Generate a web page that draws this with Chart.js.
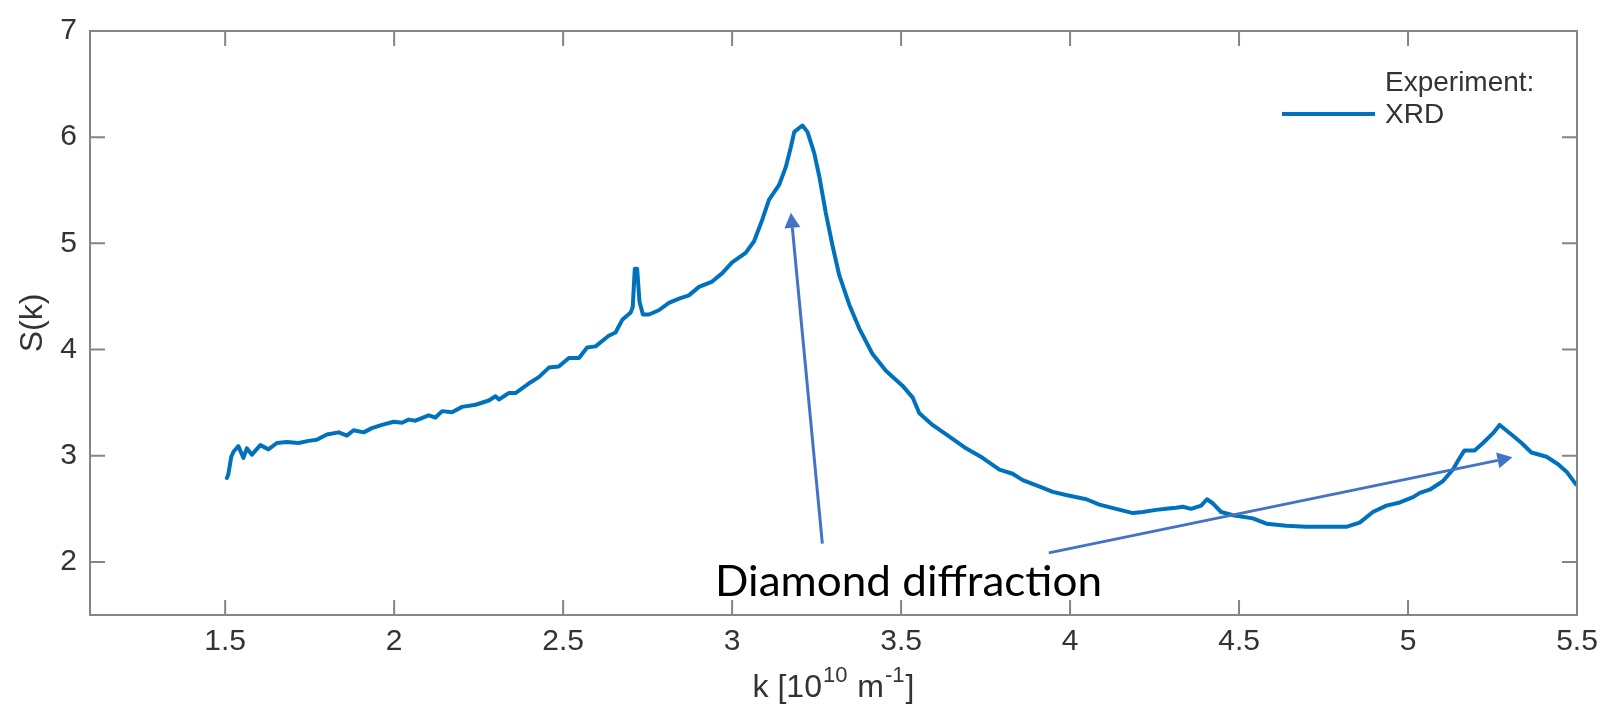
<!DOCTYPE html>
<html>
<head>
<meta charset="utf-8">
<script src="https://cdn.jsdelivr.net/npm/chart.js@4/dist/chart.umd.min.js"></script>
<style>
  html, body { margin: 0; padding: 0; background: #ffffff; }
  canvas { display: block; }
</style>
</head>
<body>
<canvas id="c" width="1614" height="707"></canvas>
<script>
// ---- data ----
const kValues = [
  1.505, 1.509, 1.518, 1.525, 1.539, 1.554, 1.564, 1.579, 1.604, 1.628, 1.653, 1.682, 1.717, 1.747, 1.771,
  1.801, 1.836, 1.860, 1.880, 1.910, 1.934, 1.964, 1.999, 2.023, 2.043, 2.063, 2.102, 2.122, 2.142, 2.171,
  2.201, 2.241, 2.280, 2.300, 2.310, 2.339, 2.359, 2.398, 2.428, 2.458, 2.487, 2.517, 2.547, 2.571, 2.596,
  2.635, 2.655, 2.675, 2.700, 2.706, 2.712, 2.719, 2.726, 2.736, 2.754, 2.783, 2.813, 2.843, 2.872, 2.902,
  2.941, 2.971, 3.000, 3.040, 3.065, 3.090, 3.109, 3.139, 3.159, 3.174, 3.184, 3.208, 3.223, 3.243, 3.258,
  3.277, 3.297, 3.317, 3.347, 3.376, 3.415, 3.455, 3.504, 3.534, 3.554, 3.593, 3.643, 3.692, 3.741, 3.791,
  3.830, 3.860, 3.910, 3.949, 3.988, 4.048, 4.087, 4.136, 4.186, 4.215, 4.255, 4.284, 4.314, 4.334, 4.358,
  4.388, 4.405, 4.423, 4.447, 4.482, 4.541, 4.581, 4.640, 4.699, 4.758, 4.817, 4.857, 4.896, 4.936, 4.976,
  5.015, 5.035, 5.064, 5.103, 5.133, 5.153, 5.167, 5.197, 5.222, 5.251, 5.271, 5.306, 5.336, 5.365, 5.410,
  5.444, 5.469, 5.497
];
const sValues = [
  2.79, 2.82, 2.99, 3.04, 3.09, 2.98, 3.07, 3.01, 3.10, 3.06, 3.12, 3.13, 3.12, 3.14, 3.15,
  3.20, 3.22, 3.19, 3.24, 3.22, 3.26, 3.29, 3.32, 3.31, 3.34, 3.33, 3.38, 3.36, 3.42, 3.41,
  3.46, 3.48, 3.52, 3.56, 3.53, 3.59, 3.59, 3.68, 3.74, 3.83, 3.84, 3.92, 3.92, 4.02, 4.03,
  4.13, 4.16, 4.28, 4.35, 4.40, 4.76, 4.76, 4.45, 4.33, 4.33, 4.37, 4.44, 4.48, 4.51, 4.59,
  4.64, 4.72, 4.82, 4.91, 5.02, 5.23, 5.41, 5.55, 5.72, 5.91, 6.05, 6.11, 6.05, 5.85, 5.63,
  5.29, 4.98, 4.70, 4.42, 4.20, 3.96, 3.80, 3.66, 3.55, 3.40, 3.29, 3.18, 3.07, 2.98, 2.87,
  2.83, 2.77, 2.71, 2.66, 2.63, 2.59, 2.54, 2.50, 2.46, 2.47, 2.49, 2.50, 2.51, 2.52, 2.50,
  2.53, 2.59, 2.55, 2.47, 2.44, 2.41, 2.36, 2.34, 2.33, 2.33, 2.33, 2.37, 2.47, 2.53, 2.56,
  2.61, 2.65, 2.68, 2.76, 2.87, 2.98, 3.05, 3.05, 3.12, 3.21, 3.29, 3.20, 3.12, 3.03, 2.99,
  2.92, 2.85, 2.73
];
const xTickValues = [1.5, 2, 2.5, 3, 3.5, 4, 4.5, 5, 5.5];
const yTickValues = [2, 3, 4, 5, 6, 7];
const seriesLabel = 'XRD';
const legendTitle = 'Experiment:';
// x-axis title pieces: [text, isSuperscript]
const xAxisTitleParts = [['k [10', false], ['10', true], [' m', false], ['-1', true], [']', false]];
const yAxisTitle = 'S(k)';
const annotationText = 'Diamond diffraction';
const annotationTextAnchor = [3.522, 1.676];          // centre x, baseline y (data units)
const arrowTails = [[3.267, 2.172], [3.937, 2.085]];  // data units
const arrowHeads = [[3.174, 5.288], [5.309, 2.985]];  // data units

// ---- styling ----
const LINE_COLOR = '#0072BD';
const AXIS_COLOR = '#858585';
const TEXT_COLOR = '#333333';
const ARROW_COLOR = '#4472C4';
const FONT = '"Liberation Sans", Arial, Helvetica, sans-serif';
const TICK_FONT = { family: FONT, size: 30 };

const points = kValues.map((k, i) => ({ x: k, y: sValues[i] }));

const boxPlugin = {
  id: 'matlabBox',
  afterDatasetsDraw(chart) {
    const ctx = chart.ctx;
    const a = chart.chartArea;
    const xs = chart.scales.x, ys = chart.scales.y;
    const TL = 15;
    ctx.save();
    ctx.strokeStyle = AXIS_COLOR;
    ctx.lineWidth = 2;
    ctx.beginPath();
    ctx.rect(a.left, a.top, a.right - a.left, a.bottom - a.top);
    ctx.stroke();
    ctx.beginPath();
    xTickValues.forEach(v => {
      const px = xs.getPixelForValue(v);
      ctx.moveTo(px, a.bottom); ctx.lineTo(px, a.bottom - TL);
      ctx.moveTo(px, a.top); ctx.lineTo(px, a.top + TL);
    });
    yTickValues.forEach(v => {
      const py = ys.getPixelForValue(v);
      ctx.moveTo(a.left, py); ctx.lineTo(a.left + TL, py);
      ctx.moveTo(a.right, py); ctx.lineTo(a.right - TL, py);
    });
    ctx.stroke();
    ctx.restore();
  },
  afterDraw(chart) {
    const ctx = chart.ctx;
    const a = chart.chartArea;
    const xs = chart.scales.x, ys = chart.scales.y;
    ctx.save();

    // x-axis title with superscripts
    const baseFont = '32px ' + FONT, supFont = '22px ' + FONT;
    ctx.fillStyle = TEXT_COLOR;
    ctx.textAlign = 'left';
    ctx.textBaseline = 'alphabetic';
    let total = 0;
    const widths = xAxisTitleParts.map(([t, sup]) => {
      ctx.font = sup ? supFont : baseFont;
      const w = ctx.measureText(t).width + (sup ? 2 : 0);
      total += w;
      return w;
    });
    let tx = (a.left + a.right) / 2 - total / 2;
    const tb = a.bottom + 82;
    xAxisTitleParts.forEach(([t, sup], i) => {
      ctx.font = sup ? supFont : baseFont;
      ctx.fillText(t, tx + (sup ? 1 : 0), sup ? tb - 15 : tb);
      tx += widths[i];
    });

    // legend
    const lx0 = a.right - 295, lx1 = a.right - 202, ly = a.top + 83;
    ctx.strokeStyle = LINE_COLOR;
    ctx.lineWidth = 4;
    ctx.lineCap = 'butt';
    ctx.beginPath(); ctx.moveTo(lx0, ly); ctx.lineTo(lx1, ly); ctx.stroke();
    ctx.fillStyle = TEXT_COLOR;
    ctx.font = '28px ' + FONT;
    ctx.fillText(legendTitle, lx1 + 10, ly - 22.7);
    ctx.fillText(seriesLabel, lx1 + 10, ly + 9);

    // arrows
    ctx.strokeStyle = ARROW_COLOR;
    ctx.fillStyle = ARROW_COLOR;
    ctx.lineWidth = 3;
    arrowTails.forEach((t, i) => {
      const h = arrowHeads[i];
      const x0 = xs.getPixelForValue(t[0]), y0 = ys.getPixelForValue(t[1]);
      const x1 = xs.getPixelForValue(h[0]), y1 = ys.getPixelForValue(h[1]);
      const ang = Math.atan2(y1 - y0, x1 - x0);
      const hl = 15, hw = 8;
      const bx = x1 - hl * Math.cos(ang), by = y1 - hl * Math.sin(ang);
      ctx.beginPath(); ctx.moveTo(x0, y0); ctx.lineTo(bx, by); ctx.stroke();
      ctx.beginPath();
      ctx.moveTo(x1, y1);
      ctx.lineTo(bx + hw * Math.sin(ang), by - hw * Math.cos(ang));
      ctx.lineTo(bx - hw * Math.sin(ang), by + hw * Math.cos(ang));
      ctx.closePath(); ctx.fill();
    });

    // annotation text
    ctx.fillStyle = '#000000';
    ctx.font = '42px Lato';
    const tw = ctx.measureText(annotationText).width;
    const sx = 387 / tw;
    const cx = xs.getPixelForValue(annotationTextAnchor[0]);
    const by = ys.getPixelForValue(annotationTextAnchor[1]);
    ctx.translate(cx, by);
    ctx.scale(sx, 1);
    ctx.textAlign = 'center';
    ctx.fillText(annotationText, 0, 0);
    ctx.restore();
  }
};

new Chart(document.getElementById('c'), {
  type: 'line',
  data: {
    datasets: [{
      label: seriesLabel,
      data: points,
      borderColor: LINE_COLOR,
      backgroundColor: LINE_COLOR,
      borderWidth: 4,
      pointRadius: 0,
      tension: 0,
      fill: false,
      borderJoinStyle: 'round',
      borderCapStyle: 'round'
    }]
  },
  options: {
    responsive: false,
    animation: false,
    devicePixelRatio: 1,
    layout: { padding: { top: 23, right: 37, left: 0, bottom: 0 } },
    plugins: { legend: { display: false }, tooltip: { enabled: false } },
    scales: {
      x: {
        type: 'linear',
        min: 1.1, max: 5.5,
        afterBuildTicks: s => { s.ticks = xTickValues.map(v => ({ value: v })); },
        afterFit: s => { s.height = 92; },
        grid: { display: false, drawTicks: false },
        border: { display: false },
        ticks: { font: TICK_FONT, color: TEXT_COLOR, padding: 9, maxRotation: 0, autoSkip: false,
                 callback: v => String(v) },
        title: { display: false }
      },
      y: {
        type: 'linear',
        min: 1.5, max: 7,
        afterBuildTicks: s => { s.ticks = yTickValues.map(v => ({ value: v })); },
        afterFit: s => { s.width = 90; },
        grid: { display: false, drawTicks: false },
        border: { display: false },
        ticks: { font: TICK_FONT, color: TEXT_COLOR, padding: 13, autoSkip: false,
                 callback: v => String(v) },
        title: { display: true, text: yAxisTitle, color: TEXT_COLOR,
                 font: { family: FONT, size: 32 }, padding: { top: 14, bottom: 0 } }
      }
    }
  },
  plugins: [boxPlugin]
});
</script>
</body>
</html>
